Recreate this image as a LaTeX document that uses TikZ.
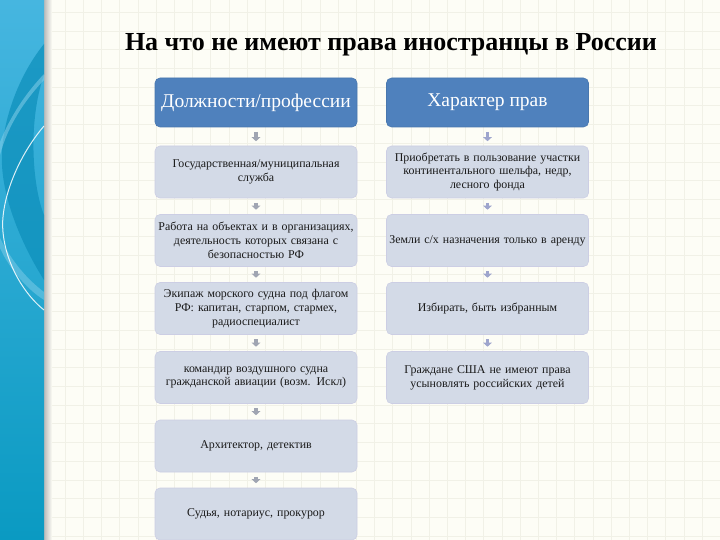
\documentclass[tikz,border=0pt]{standalone}
\usepackage{fontspec}
\setmainfont{Liberation Serif}
\usetikzlibrary{arrows.meta}
\definecolor{bg}{RGB}{253,253,246}
\definecolor{gridc}{RGB}{241,241,231}
\definecolor{hdr}{RGB}{79,129,189}
\definecolor{boxf}{RGB}{211,218,231}
\definecolor{boxd}{RGB}{204,206,228}
\definecolor{arrl}{RGB}{160,165,178}
\definecolor{arrr}{RGB}{158,165,205}
\definecolor{pantop}{RGB}{70,182,224}
\definecolor{panbot}{RGB}{10,154,194}
\definecolor{pandark}{RGB}{12,142,186}
\definecolor{panlight}{RGB}{140,210,236}
\begin{document}
\begin{tikzpicture}[x=1pt,y=-1pt,
  hdrbox/.style={draw=hdr!92!black, fill=hdr, rounded corners=5pt, minimum width=202pt, minimum height=49pt, text=white, font=\fontsize{19.5}{21}\selectfont, inner sep=0pt, line width=0.6pt},
  itembox/.style={draw=boxd, fill=boxf, rounded corners=5pt, minimum width=202pt, minimum height=52pt, text width=200pt, align=center, font=\fontsize{11.9}{13.8}\selectfont, inner sep=0pt, line width=0.6pt, text=black!90},
  flowl/.style={draw=arrl, line width=3.6pt, -{Triangle[width=8.5pt,length=4pt]}, shorten <=4.5pt, shorten >=4.5pt},
  flowr/.style={flowl, draw=arrr},
  titletext/.style={font=\fontsize{26}{30}\selectfont\bfseries, text=black},
]
\useasboundingbox (0,0) rectangle (720,540);
\clip (0,0) rectangle (720,540);
% background
\fill[bg] (0,0) rectangle (720,540);
\foreach \gx in {0,...,36} {
  \draw[gridc, line width=0.6pt] ({65+18.2*(\gx-1)},0) -- ({65+18.2*(\gx-1)},540);
}
\foreach \gy in {0,...,29} {
  \draw[gridc, line width=0.6pt] (0,{12.3+18.7*\gy}) -- (720,{12.3+18.7*\gy});
}
% left panel
\shade[left color=black!30, right color=bg] (43,0) rectangle (52,540);
\shade[top color=pantop, bottom color=panbot] (0,0) rectangle (44,540);
\begin{scope}
\clip (0,0) rectangle (44,540);
\fill[pandark, opacity=0.7] (44,44) .. controls (15,80) and (0,130) .. (2,165)
  .. controls (4,205) and (25,250) .. (44,280) -- (44,215)
  .. controls (32,185) and (28,120) .. (44,75) -- cycle;
\fill[panlight, opacity=0.5] (44,80) .. controls (25,100) and (8,125) .. (0,155)
  -- (0,142) .. controls (10,117) and (25,94) .. (44,74) -- cycle;
\fill[panlight, opacity=0.45] (0,238) .. controls (12,262) and (28,280) .. (44,292)
  -- (44,300) .. controls (25,288) and (8,266) .. (0,248) -- cycle;
\draw[white, line width=1pt, opacity=0.85] (44,126) .. controls (15,160) and (0,205) .. (3,232)
  .. controls (6,265) and (25,295) .. (44,310);
\end{scope}
% title
\node[titletext] (title) at (391,45) {На что не имеют права иностранцы в России};
% headers
\node[hdrbox] (hl) at (256,102.5) {Должности/профессии};
\node[hdrbox] (hr) at (487.5,102.5) {Характер прав};
% left column
\node[itembox] (l1) at (256,172) {Государственная/муниципальная\\служба};
\node[itembox] (l2) at (256,240.5) {Работа на объектах и в организациях,\\деятельность которых связана с\\безопасностью РФ};
\node[itembox] (l3) at (256,308.5) {Экипаж морского судна под флагом\\РФ: капитан, старпом, стармех,\\радиоспециалист};
\node[itembox] (l4) at (256,377.5) {командир воздушного судна\\гражданской авиации (возм. Искл)};
\node[itembox] (l5) at (256,446) {Архитектор, детектив};
\node[itembox] (l6) at (256,514) {Судья, нотариус, прокурор};
% right column
\node[itembox] (r1) at (487.5,172) {Приобретать в пользование участки\\континентального шельфа, недр,\\лесного фонда};
\node[itembox] (r2) at (487.5,240.5) {Земли с/х назначения только в аренду};
\node[itembox] (r3) at (487.5,308.5) {Избирать, быть избранным};
\node[itembox] (r4) at (487.5,377.5) {Граждане США не имеют права\\усыновлять российских детей};
% arrows
\draw[flowl] (hl.south) -- (l1.north);
\draw[flowl] (l1.south) -- (l2.north);
\draw[flowl] (l2.south) -- (l3.north);
\draw[flowl] (l3.south) -- (l4.north);
\draw[flowl] (l4.south) -- (l5.north);
\draw[flowl] (l5.south) -- (l6.north);
\draw[flowr] (hr.south) -- (r1.north);
\draw[flowr] (r1.south) -- (r2.north);
\draw[flowr] (r2.south) -- (r3.north);
\draw[flowr] (r3.south) -- (r4.north);
\end{tikzpicture}
\end{document}
